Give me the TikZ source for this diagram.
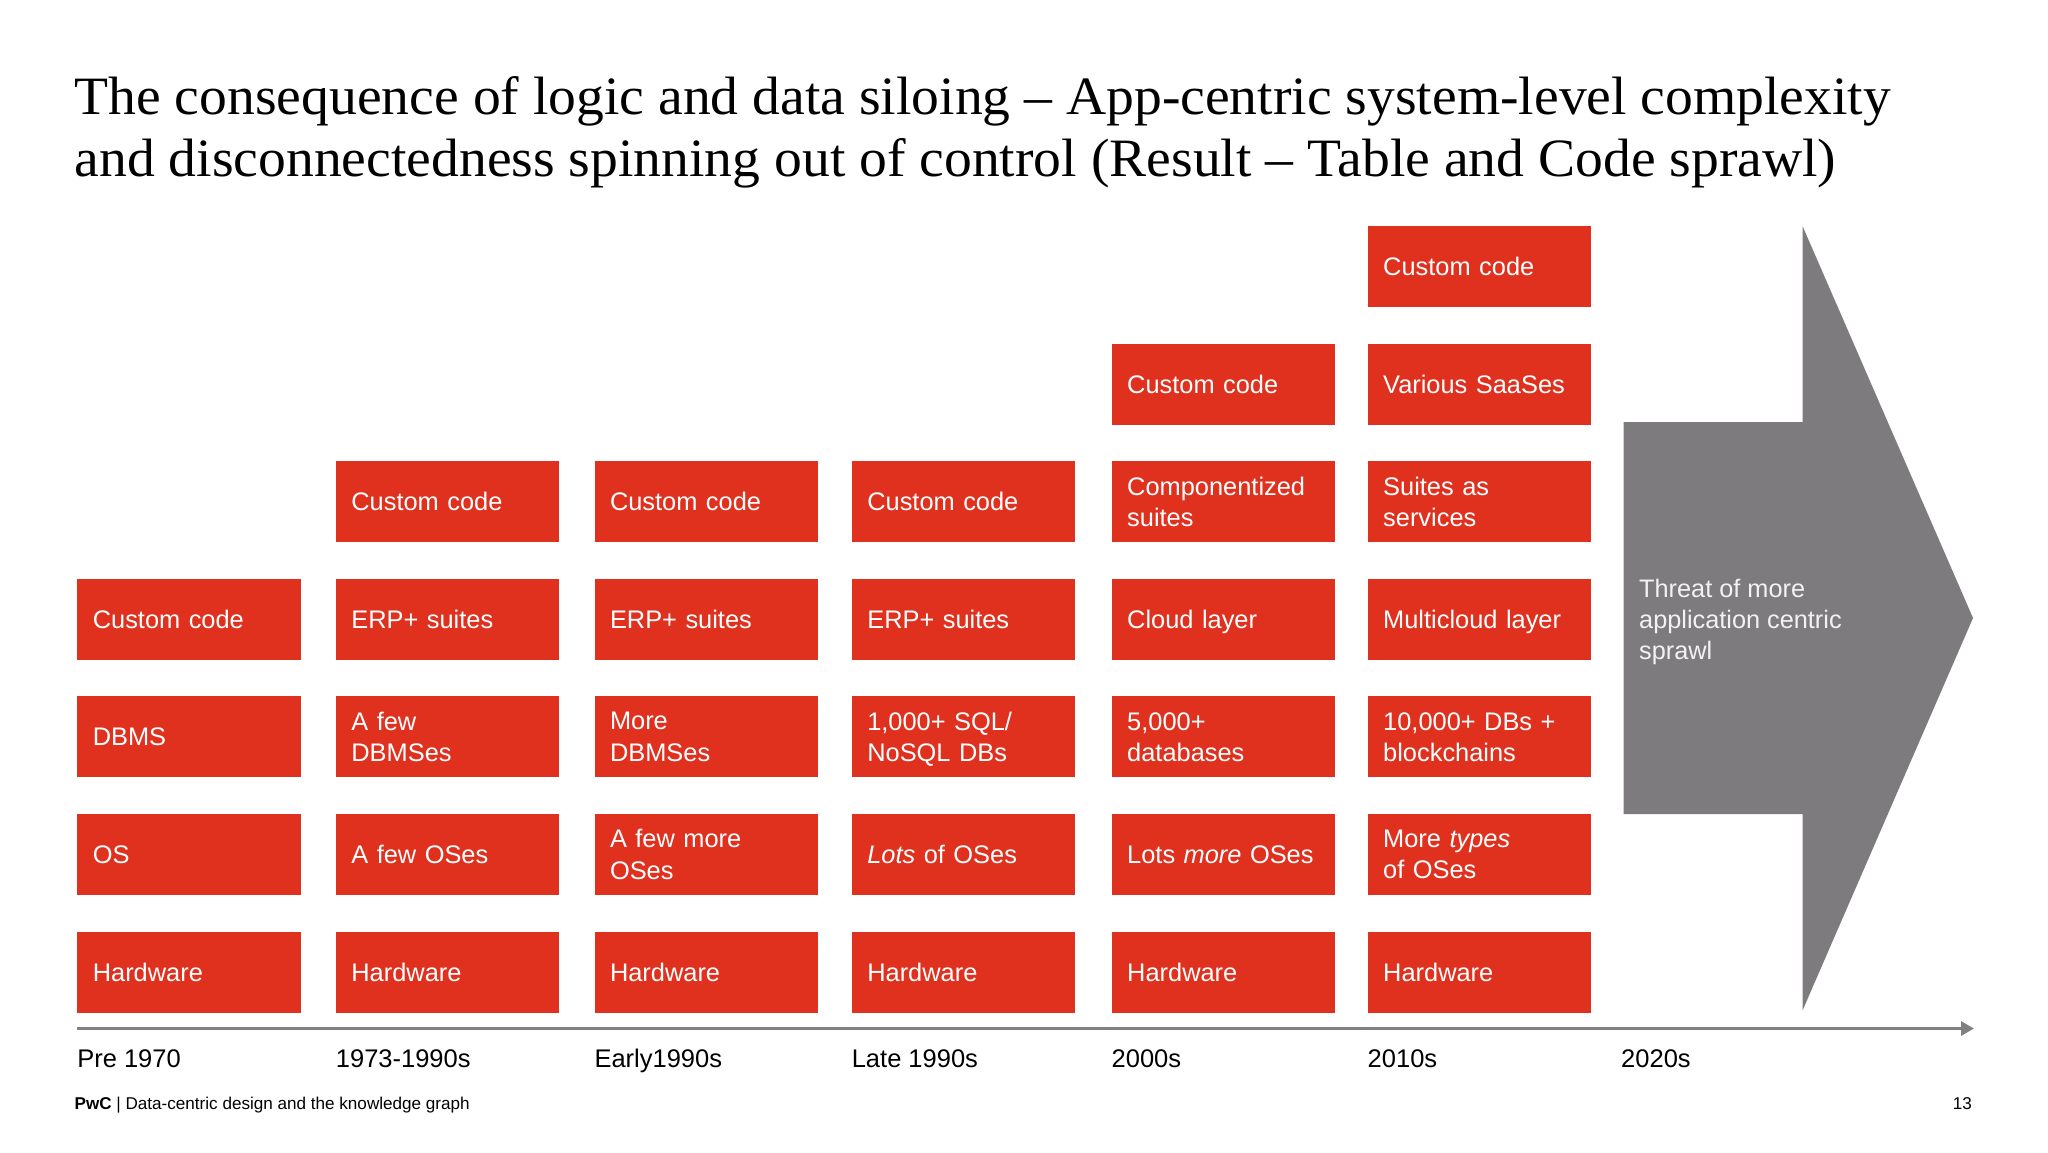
\documentclass[tikz,border=0pt]{standalone}
\usepackage{fontspec}
\setmainfont{Liberation Sans}
\newfontfamily\titlefont[FakeStretch=1.03]{Liberation Serif}
\usetikzlibrary{arrows.meta}
\definecolor{pwcred}{HTML}{E0301E}
\definecolor{pwcgray}{HTML}{7D7B7E}
\definecolor{axisgray}{HTML}{808080}
\begin{document}
\begin{tikzpicture}[x=1pt,y=-1pt,
  box/.style={fill=pwcred, draw=none, minimum width=223.5pt, minimum height=81pt,
    text width=192.5pt, inner xsep=15.5pt, inner ysep=0pt, align=left, text=white,
    font=\fontsize{25.4}{31.3}\selectfont, anchor=north west},
  nodesc/.style={text depth=0pt},
  era/.style={anchor=base west, inner sep=0pt, font=\fontsize{25.5}{30}\selectfont, text=black},
  foot/.style={inner sep=0pt, font=\fontsize{17.1}{20}\selectfont, text=black},
  axisline/.style={draw=axisgray, line width=3pt, -{Triangle[length=13pt,width=14pt]}},
  bigarrow/.style={fill=pwcgray, draw=none}]
\useasboundingbox (0,0) rectangle (2048,1152);
\fill[white] (0,0) rectangle (2048,1152);

% title
\node[anchor=base west, inner sep=0pt, align=left, font=\titlefont\fontsize{54}{61.4}\selectfont] (title) at (74.4,176)
 {The consequence of logic and data siloing \textendash{} App-centric system-level complexity\\
  and disconnectedness spinning out of control (Result \textendash{} Table and Code sprawl)};

% big grey arrow
\fill[bigarrow] (1623.5,422) -- (1802.5,422) -- (1802.5,226) -- (1973,618)
  -- (1802.5,1010.5) -- (1802.5,814) -- (1623.5,814) -- cycle;
\node[anchor=west, inner sep=0pt, align=left, text=white!95!black,
  font=\fontsize{25.3}{30.8}\selectfont] (threat) at (1639,622)
  {Threat of more\\application centric\\sprawl};

% column 1
\node[box] (c1r4) at (77.1,578.65) {Custom code};
\node[box] (c1r5) at (77.1,696.2) {DBMS};
\node[box] (c1r6) at (77.1,813.75) {OS};
\node[box] (c1r7) at (77.1,931.3) {Hardware};
% column 2
\node[box] (c2r3) at (335.7,461.1) {Custom code};
\node[box] (c2r4) at (335.7,578.65) {ERP+ suites};
\node[box] (c2r5) at (335.7,696.2) {A few\\DBMSes};
\node[box] (c2r6) at (335.7,813.75) {A few OSes};
\node[box] (c2r7) at (335.7,931.3) {Hardware};
% column 3
\node[box] (c3r3) at (594.3,461.1) {Custom code};
\node[box] (c3r4) at (594.3,578.65) {ERP+ suites};
\node[box] (c3r5) at (594.3,696.2) {More\\DBMSes};
\node[box] (c3r6) at (594.3,813.75) {A few more\\OSes};
\node[box] (c3r7) at (594.3,931.3) {Hardware};
% column 4
\node[box] (c4r3) at (851.6,461.1) {Custom code};
\node[box] (c4r4) at (851.6,578.65) {ERP+ suites};
\node[box] (c4r5) at (851.6,696.2) {1,000+ SQL/\\\smash{NoSQL DBs}};
\node[box] (c4r6) at (851.6,813.75) {\textit{Lots} of OSes};
\node[box] (c4r7) at (851.6,931.3) {Hardware};
% column 5
\node[box] (c5r2) at (1111.5,343.55) {Custom code};
\node[box] (c5r3) at (1111.5,461.1) {Componentized\\suites};
\node[box, nodesc] (c5r4) at (1111.5,578.65) {Cloud layer};
\node[box] (c5r5) at (1111.5,696.2) {5,000+\\databases};
\node[box] (c5r6) at (1111.5,813.75) {Lots \textit{more} OSes};
\node[box] (c5r7) at (1111.5,931.3) {Hardware};
% column 6
\node[box] (c6r1) at (1367.5,226) {Custom code};
\node[box] (c6r2) at (1367.5,343.55) {Various SaaSes};
\node[box] (c6r3) at (1367.5,461.1) {Suites as\\services};
\node[box, nodesc] (c6r4) at (1367.5,578.65) {Multicloud layer};
\node[box] (c6r5) at (1367.5,696.2) {10,000+ DBs +\\blockchains};
\node[box] (c6r6) at (1367.5,813.75) {More \textit{types}\\of OSes};
\node[box] (c6r7) at (1367.5,931.3) {Hardware};

% time axis
\coordinate (axstart) at (77,1028.5);
\coordinate (axend) at (1974,1028.5);
\draw[axisline] (axstart) -- (axend);

\node[era] (e1) at (77.1,1067) {Pre 1970};
\node[era] (e2) at (335.7,1067) {1973-1990s};
\node[era] (e3) at (594.3,1067) {Early1990s};
\node[era] (e4) at (851.6,1067) {Late 1990s};
\node[era] (e5) at (1111.5,1067) {2000s};
\node[era] (e6) at (1367.5,1067) {2010s};
\node[era] (e7) at (1621,1067) {2020s};

% footer
\node[foot, anchor=base west] (footer) at (74.4,1109) {\textbf{PwC} | Data-centric design and the knowledge graph};
\node[foot, anchor=base east] (pageno) at (1972,1109) {13};
\end{tikzpicture}
\end{document}
